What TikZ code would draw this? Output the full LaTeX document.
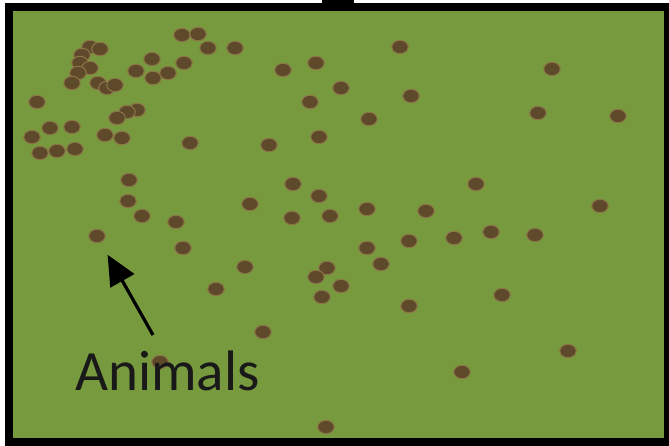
\documentclass[tikz,border=0pt]{standalone}
\usepackage{fontspec}
\usepackage{tikz}
\usetikzlibrary{arrows.meta,positioning,shapes.geometric}
\newfontfamily\labelfont{Carlito}
\definecolor{cField}{HTML}{789A3E}
\definecolor{cAnimal}{HTML}{5E4A2A}
\definecolor{cRim}{HTML}{8A7647}

\begin{document}
\begin{tikzpicture}[x=1pt,y=-1pt,
  animal/.style={ellipse,fill=cAnimal,draw=cRim,line width=1pt,
    minimum width=16.5pt,minimum height=13.5pt,inner sep=0},
  pointer/.style={line width=3.2pt,-{Triangle[length=30pt,width=27pt]},shorten >=14pt}]
  \useasboundingbox (0,0) rectangle (669,446);
  \clip (0,0) rectangle (669,446);
  \draw[fill=cField,line width=8pt] (9,7) rectangle (668,441.5);
  \fill (322,0) rectangle (354,8);
  \foreach \x/\y [count=\i] in {182/35,198/34,208/48,235/48,152/59,184/63,136/71,
    153/78,168/73,90/47,100/49,82/55,80/63,90/68,78/73,72/83,98/83,107/88,115/85,
    37/102,137/110,127/112,117/118,50/128,72/127,32/137,105/135,122/138,40/153,
    57/151,75/149,190/143,400/47,283/70,316/63,341/88,411/96,310/102,369/119,
    319/137,269/145,552/69,538/113,618/116,129/180,128/201,142/216,176/222,
    183/248,216/289,293/184,319/196,250/204,292/218,330/216,367/209,426/211,
    409/241,367/248,381/264,245/267,327/268,316/277,341/286,322/297,409/306,
    476/184,600/206,454/238,491/232,535/235,502/295,568/351,462/372,263/332,
    326/427,160/362}
    \node[animal] (d\i) at (\x,\y) {};
  \node[animal] (seen) at (97,236) {};
  \node[anchor=base west,inner sep=0,font=\labelfont\fontsize{57}{60}\selectfont,
    text=black!90] (animals) at (75,390) {Animals};
  \coordinate (tail) at (153,335);
  \draw[pointer] (tail) -- (seen);
\end{tikzpicture}
\end{document}
